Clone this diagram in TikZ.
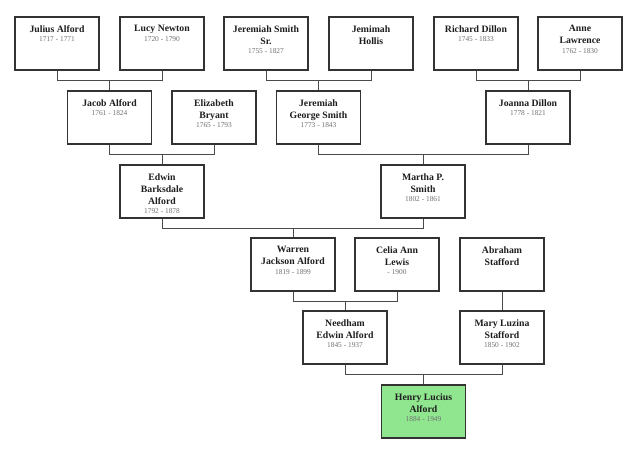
\documentclass[tikz,border=0pt]{standalone}
\usepackage{fontspec}
\setmainfont{Liberation Serif}
\usetikzlibrary{calc}
\definecolor{boxline}{HTML}{333333}
\definecolor{linkc}{HTML}{4A4A4A}
\definecolor{namec}{HTML}{1E1E1E}
\definecolor{datec}{HTML}{707070}
\definecolor{selfc}{HTML}{8FE68F}
\newcommand\pers[2]{\parbox[t][47pt][t]{82pt}{\vspace*{5.5pt}\centering\color{namec}\fontsize{9.75}{12}\selectfont\bfseries #1\par
  {\fontsize{7.4}{9.5}\selectfont\mdseries\color{datec}#2\par}}}
\tikzset{
  person/.style={draw=boxline, line width=1.1pt, fill=white, inner sep=0pt, minimum width=84pt, minimum height=53pt},
  self/.style={person, fill=selfc},
  link/.style={draw=linkc, line width=0.9pt},
}
\begin{document}
\begin{tikzpicture}[x=1pt,y=-1pt]
\useasboundingbox (0,0) rectangle (640,448);
% row 1
\node[person] (jul) at (57,43.5) {\pers{Julius Alford}{1717 - 1771}};
\node[person] (lucy) at (162,43.5) {\pers{Lucy Newton}{1720 - 1790}};
\node[person] (jss) at (266,43.5) {\pers{Jeremiah Smith\\Sr.}{1755 - 1827}};
\node[person] (jem) at (371,43.5) {\pers{Jemimah\\Hollis}{}};
\node[person] (ric) at (476,43.5) {\pers{Richard Dillon}{1745 - 1833}};
\node[person] (ann) at (580,43.5) {\pers{Anne\\Lawrence}{1762 - 1830}};
% row 2
\node[person] (jac) at (109.5,117.5) {\pers{Jacob Alford}{1761 - 1824}};
\node[person] (eli) at (214,117.5) {\pers{Elizabeth\\Bryant}{1765 - 1793}};
\node[person] (jgs) at (318.5,117.5) {\pers{Jeremiah\\George Smith}{1773 - 1843}};
\node[person] (joa) at (528,117.5) {\pers{Joanna Dillon}{1778 - 1821}};
% row 3
\node[person] (edw) at (162,191.5) {\pers{Edwin\\Barksdale\\Alford}{1792 - 1878}};
\node[person] (mar) at (423,191.5) {\pers{Martha P.\\Smith}{1802 - 1861}};
% row 4
\node[person] (war) at (293,264.5) {\pers{Warren\\Jackson Alford}{1819 - 1899}};
\node[person] (cel) at (397,264.5) {\pers{Celia Ann\\Lewis}{- 1900}};
\node[person] (abr) at (502,264.5) {\pers{Abraham\\Stafford}{}};
% row 5
\node[person] (nee) at (345,337.5) {\pers{Needham\\Edwin Alford}{1845 - 1937}};
\node[person] (mlz) at (502,337.5) {\pers{Mary Luzina\\Stafford}{1850 - 1902}};
% row 6
\node[self] (hen) at (423.5,411.5) {\pers{Henry Lucius\\Alford}{1884 - 1949}};
% connectors
\foreach \a/\b/\c in {jul/lucy/jac, jss/jem/jgs, ric/ann/joa, jac/eli/edw, jgs/joa/mar, edw/mar/war, war/cel/nee, nee/mlz/hen}{
  \draw[link] (\a.south) -- ++(0pt,-10pt) -| (\b.south);
  \draw[link] (\c.north) -- (\c.north |- {$(\a.south)+(0pt,-10pt)$});
}
\draw[link] (abr.south) -- (mlz.north);
\end{tikzpicture}
\end{document}
